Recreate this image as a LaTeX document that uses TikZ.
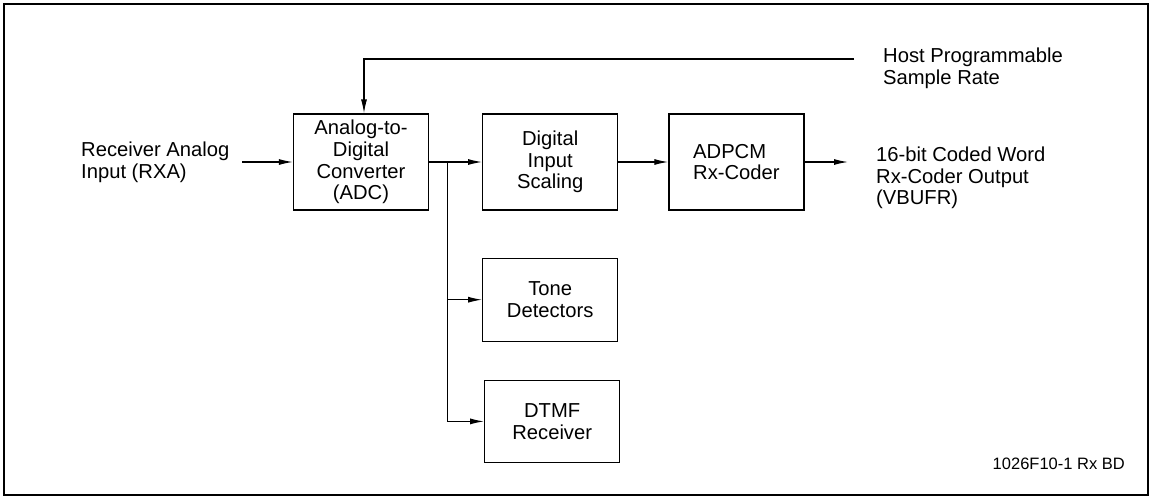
\documentclass[tikz,border=0pt]{standalone}
\usepackage{fontspec}
\setmainfont{Liberation Sans}
\usetikzlibrary{positioning,arrows.meta}
\tikzset{
  blk/.style={draw,line width=1.2pt,align=center,inner sep=2pt,
              minimum width=135pt,minimum height=96pt},
  lbl/.style={align=left,inner sep=0pt},
  fl/.style={-{Latex[length=14pt,width=6pt]},line width=1.2pt},
}
\begin{document}
\begin{tikzpicture}[x=1pt,y=-1pt,font=\fontsize{20.2}{21.6}\selectfont]
\useasboundingbox (0,0) rectangle (1151,498);
\draw[line width=2pt] (4,4) rectangle (1148,495);
% main row
\node[blk] (adc) at (361,162) {Analog-to-\\Digital\\Converter\\(ADC)};
\node[blk,right=53pt of adc] (dis) {Digital\\Input\\Scaling};
\node[blk,right=50pt of dis,align=left] (adpcm) {ADPCM\\Rx-Coder};
% branches
\node[blk,minimum height=83pt,below=47pt of dis] (tone) {Tone\\Detectors};
\node[blk,minimum height=82pt,below=38pt of tone,xshift=2pt] (dtmf) {DTMF\\Receiver};
% outside labels
\node[lbl,anchor=west] (rxa) at (81,162) {Receiver Analog\\Input (RXA)};
\node[lbl,anchor=west] (host) at (883,68) {Host Programmable\\Sample Rate};
\node[lbl,anchor=west] (word) at (876,178) {16-bit Coded Word\\Rx-Coder Output\\(VBUFR)};
\node[lbl,anchor=east,font=\fontsize{16.5}{18}\selectfont] (fig) at (1125,464) {1026F10-1 Rx BD};
\coordinate (in) at (242,162);
\coordinate (rate) at (854,59);
\coordinate (out) at (848,162);
\coordinate (br) at ([xshift=18pt]adc.east);
% flows
\draw[fl] (in) -- (adc);
\draw[fl] (rate) -| ([xshift=3pt]adc.north);
\draw[fl] (adc.east) -- (dis.west);
\draw[fl] (dis) -- (adpcm);
\draw[fl] (adpcm) -- (out);
\draw[fl] (br) |- (tone); \draw[fl] (br) |- (dtmf);
\end{tikzpicture}
\end{document}
